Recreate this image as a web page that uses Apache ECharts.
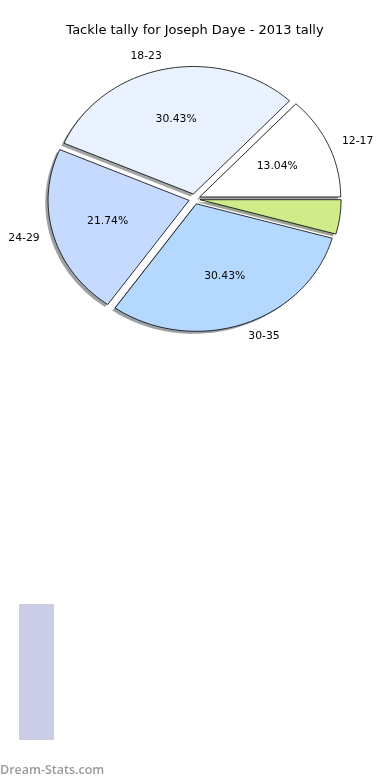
<!DOCTYPE html>
<html>
<head>
<meta charset="utf-8">
<script src="https://cdn.jsdelivr.net/npm/echarts@6/dist/echarts.min.js"></script>
<style>
html,body{margin:0;padding:0;background:#fff;}
#chart{width:390px;height:780px;}
</style>
</head>
<body>
<div id="chart"></div>
<script>
// ---- data ----
const categories = ['12-17', '18-23', '24-29', '30-35', ''];
const tackles = [3, 7, 5, 7, 1];
const sliceColors = ['#ffffff', '#eaf2ff', '#c6d9ff', '#b5d8ff', '#cfeb8a'];
const titleText = 'Tackle tally for Joseph Daye - 2013 tally';
const watermark = 'Dream-Stats.com';

// ---- layout ----
const CX = 194.5, CY = 199, RX = 141, RY = 127.5, EXPLODE = 0.04;
const SHADOW_DX = -2.8, SHADOW_DY = 2.5;
const FONT = 'DejaVu Sans';
const LABEL_SIZE = 10.8;

const total = tackles.reduce((a, b) => a + b, 0);

function geom(i, value) {
  let before = 0;
  for (let k = 0; k < i; k++) before += tackles[k];
  const a0 = before / total * 2 * Math.PI;
  const a1 = (before + value) / total * 2 * Math.PI;
  const mid = (a0 + a1) / 2;
  const cx = CX + EXPLODE * RX * Math.cos(mid);
  const cy = CY - EXPLODE * RY * Math.sin(mid);
  const pts = [[cx, cy]];
  const n = Math.max(8, Math.ceil((a1 - a0) / (2 * Math.PI) * 240));
  for (let s = 0; s <= n; s++) {
    const a = a0 + (a1 - a0) * s / n;
    pts.push([cx + RX * Math.cos(a), cy - RY * Math.sin(a)]);
  }
  return { pts, mid, cx, cy };
}

function hexToShadow(hex) {
  const r = parseInt(hex.slice(1, 3), 16), g = parseInt(hex.slice(3, 5), 16), b = parseInt(hex.slice(5, 7), 16);
  return 'rgba(' + Math.round(r * 0.3) + ',' + Math.round(g * 0.3) + ',' + Math.round(b * 0.3) + ',0.5)';
}

const chart = echarts.init(document.getElementById('chart'), null, { renderer: 'canvas' });

const data = tackles.map((v, i) => ({ name: categories[i], value: v }));

chart.setOption({
  animation: false,
  backgroundColor: '#ffffff',
  title: {
    text: titleText,
    left: 'center',
    top: 19,
    textStyle: { fontFamily: FONT, fontSize: 13, fontWeight: 'normal', color: '#000' }
  },
  graphic: [
    { type: 'rect', left: 19, top: 604, shape: { width: 35, height: 136 }, style: { fill: '#cbcce6' }, silent: true },
    { type: 'text', left: 0, top: 764, style: { text: watermark, fill: '#9a9a9a', font: '600 12.5px "Open Sans"' }, silent: true }
  ],
  series: [
    {
      type: 'custom',
      coordinateSystem: 'none',
      z: 1,
      silent: true,
      data: data,
      renderItem: function (params, api) {
        const i = params.dataIndex;
        const g = geom(i, api.value(0));
        return {
          type: 'polygon',
          shape: { points: g.pts.map(p => [p[0] + SHADOW_DX, p[1] + SHADOW_DY]) },
          style: { fill: hexToShadow(sliceColors[i]), stroke: null }
        };
      }
    },
    {
      type: 'custom',
      coordinateSystem: 'none',
      z: 2,
      silent: true,
      data: data,
      renderItem: function (params, api) {
        const i = params.dataIndex;
        const v = api.value(0);
        const g = geom(i, v);
        const children = [{
          type: 'polygon',
          shape: { points: g.pts },
          style: { fill: sliceColors[i], stroke: '#000', lineWidth: 0.8, lineJoin: 'miter' }
        }];
        if (categories[i]) {
          const c = Math.cos(g.mid), s = Math.sin(g.mid);
          children.push({
            type: 'text',
            style: {
              text: categories[i],
              x: g.cx + 1.1 * RX * c,
              y: g.cy - 1.1 * RY * s,
              align: c >= 0 ? 'left' : 'right',
              verticalAlign: 'middle',
              font: LABEL_SIZE + 'px "' + FONT + '"',
              fill: '#000'
            }
          });
          children.push({
            type: 'text',
            style: {
              text: (v / total * 100).toFixed(2) + '%',
              x: g.cx + 0.6 * RX * c,
              y: g.cy - 0.6 * RY * s,
              align: 'center',
              verticalAlign: 'middle',
              font: LABEL_SIZE + 'px "' + FONT + '"',
              fill: '#000'
            }
          });
        }
        return { type: 'group', children: children };
      }
    }
  ]
});
</script>
</body>
</html>
